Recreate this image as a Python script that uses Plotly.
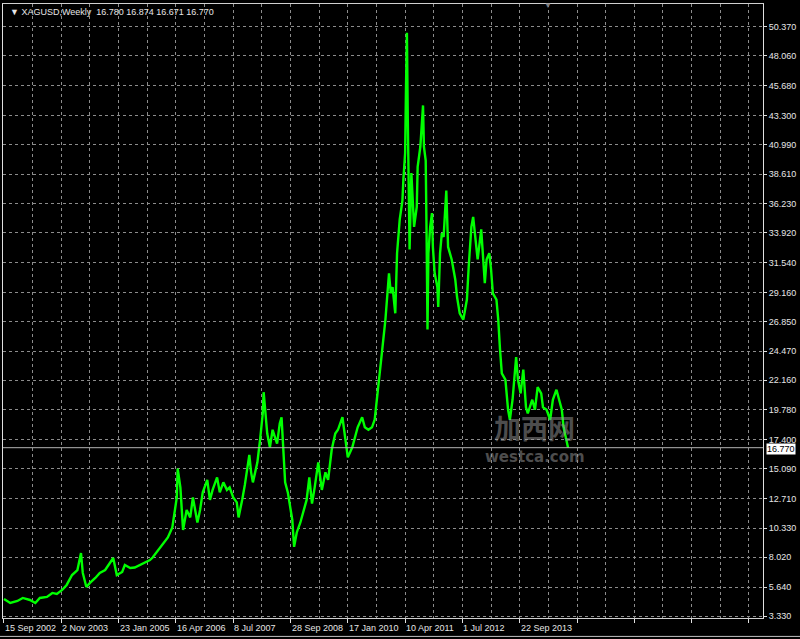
import plotly.graph_objects as go

# weekly bar index (from 15 Sep 2002) and approximate price
bars = [0, 7, 15, 21, 29, 35, 40, 48, 54, 59, 65, 70, 76, 82, 86, 88, 92, 96, 102, 107,
        113, 118, 122, 126, 132, 135, 141, 146, 152, 157, 163, 166, 172, 178, 183, 188, 191, 193, 194, 197,
        200, 204, 208, 211, 216, 219, 222, 227, 230, 233, 238, 241, 245, 249, 252, 256, 260, 262, 266, 269,
        274, 276, 278, 283, 286, 289, 290, 294, 297, 300, 305, 308, 310, 312, 314, 317, 322, 324, 327, 331,
        334, 338, 341, 344, 347, 351, 355, 359, 362, 366, 370, 373, 378, 381, 384, 389, 392, 395, 400, 403,
        407, 411, 414, 418, 422, 426, 428, 430, 432, 434, 437, 439, 442, 445, 446, 448, 449, 450, 451, 452,
        453, 455, 457, 458, 461, 462, 465, 467, 468, 469, 471, 472, 473, 474, 476, 478, 479, 481, 484, 485,
        487, 489, 491, 494, 496, 500, 504, 506, 509, 513, 515, 517, 519, 522, 524, 526, 528, 529, 533, 535,
        537, 539, 542, 544, 546, 550, 552, 554, 556, 560, 563, 565, 567, 568, 572, 574, 577, 580, 583, 585,
        590, 593, 596, 600, 602, 606, 610, 613, 617, 619, 623, 625, 628, 630]
prices = [4.69, 4.37, 4.53, 4.77, 4.61, 4.37, 4.77, 4.85, 5.17, 5.09, 5.41, 5.81, 6.60, 7.00, 8.36, 6.77, 5.64, 5.97, 6.37, 6.77,
          7.00, 7.56, 7.96, 6.60, 6.85, 7.40, 7.16, 7.20, 7.40, 7.56, 7.80, 8.00, 8.60, 9.16, 9.60, 10.4, 11.8, 12.8, 15.1, 13.6,
          10.2, 11.8, 11.2, 12.8, 10.8, 11.8, 13.2, 14.2, 12.6, 13.4, 14.4, 13.2, 14.0, 13.4, 13.6, 12.8, 12.4, 11.2, 12.6, 13.8,
          16.2, 14.8, 14.0, 15.6, 17.4, 19.5, 21.2, 17.9, 16.8, 18.2, 17.1, 18.7, 19.2, 16.8, 14.0, 13.2, 11.0, 8.85, 10.0, 10.8,
          11.6, 12.6, 14.4, 12.3, 13.6, 15.6, 13.4, 14.8, 14.2, 16.6, 17.9, 18.2, 19.2, 17.4, 16.0, 16.8, 17.6, 18.4, 19.2, 18.4,
          18.2, 18.4, 19.0, 21.4, 24.3, 27.0, 29.1, 30.7, 29.1, 29.6, 27.5, 32.3, 35.0, 36.5, 38.1, 40.3, 45.6, 49.9, 43.0, 35.0,
          32.6, 38.7, 36.3, 34.4, 36.0, 39.2, 40.8, 43.0, 44.1, 40.8, 39.7, 33.6, 26.2, 32.3, 34.4, 35.5, 32.8, 30.7, 29.6, 28.0,
          32.3, 33.9, 33.6, 37.3, 32.8, 31.8, 30.2, 28.8, 27.5, 27.0, 28.0, 28.6, 31.2, 34.4, 35.2, 33.9, 32.3, 31.8, 34.2, 32.3,
          29.9, 31.8, 32.3, 31.0, 29.1, 28.6, 27.0, 24.6, 22.7, 22.2, 19.8, 19.0, 20.0, 20.6, 24.0, 22.2, 21.1, 23.0, 20.0, 19.5,
          20.6, 19.8, 21.6, 21.1, 20.0, 19.8, 19.0, 20.6, 21.4, 20.8, 19.8, 18.4, 17.4, 16.77]

y_ticks = [3.33, 5.64, 8.02, 10.33, 12.71, 15.09, 17.40, 19.78, 22.16, 24.47, 26.85, 29.16, 31.54,
           33.92, 36.23, 38.61, 40.99, 43.30, 45.68, 48.06, 50.37]
x_label_bars = [0, 64, 128, 192, 256, 320, 384, 448, 512, 576]
x_labels = ["15 Sep 2002", "2 Nov 2003", "23 Jan 2005", "16 Apr 2006", "8 Jul 2007", "28 Sep 2008",
            "17 Jan 2010", "10 Apr 2011", "1 Jul 2012", "22 Sep 2013"]
last_price = 16.770
header = "XAGUSD,Weekly  16.780 16.874 16.671 16.770"

FONT = "Liberation Sans"
GRID = "#8c8c8c"
TXT = "#e6e6e6"

fig = go.Figure()
fig.add_trace(go.Scatter(x=bars, y=prices, mode="lines",
                         line=dict(color="#00ff00", width=2.4), hoverinfo="skip"))

fig.update_layout(
    width=800, height=639,
    margin=dict(l=3, r=37, t=4, b=21),
    paper_bgcolor="black", plot_bgcolor="black",
    showlegend=False,
    font=dict(family=FONT, size=9, color=TXT),
    xaxis=dict(range=[-1.1, 847.7], tick0=0, dtick=64, showticklabels=False,
               ticks="outside", ticklen=4, tickcolor="#e0e0e0",
               showgrid=True, gridcolor=GRID, griddash="3px,3px", gridwidth=1,
               minor=dict(dtick=32, tick0=0, showgrid=True, gridcolor=GRID, griddash="3px,3px", ticks=""),
               showline=True, linecolor="#d0d0d0", linewidth=1, mirror=True, zeroline=False),
    yaxis=dict(range=[3.17, 52.20], side="right", tickvals=y_ticks,
               ticktext=[f"{v:.3f}" for v in y_ticks],
               ticks="outside", ticklen=3, tickcolor="#e0e0e0",
               tickfont=dict(family=FONT, size=9, color=TXT),
               showgrid=True, gridcolor=GRID, griddash="3px,3px", gridwidth=1,
               showline=True, linecolor="#e0e0e0", linewidth=1, mirror=True, zeroline=False),
)

# current price line
fig.add_hline(y=last_price, line=dict(color="#b4b4b4", width=1))

annotations = []
for b, t in zip(x_label_bars, x_labels):
    annotations.append(dict(x=b, y=0, xref="x", yref="paper", text=t, showarrow=False,
                            xanchor="left", yanchor="top", yshift=-3, xshift=-1,
                            font=dict(family=FONT, size=9, color=TXT)))
annotations.append(dict(x=1, y=last_price, xref="paper", yref="y", text=f"{last_price:.3f}",
                        showarrow=False, xanchor="left", yanchor="middle", xshift=3, yshift=-1,
                        bgcolor="white", borderpad=0,
                        font=dict(family=FONT, size=9, color="black")))
annotations.append(dict(x=0, y=1, xref="paper", yref="paper", text="▼ " + header,
                        showarrow=False, xanchor="left", yanchor="top", xshift=5, yshift=-1,
                        font=dict(family=FONT, size=9, color=TXT)))
annotations.append(dict(x=608, y=1, xref="x", yref="paper", text="▼", showarrow=False,
                        xanchor="center", yanchor="middle", yshift=-1,
                        font=dict(family=FONT, size=8, color="#808080")))
# watermark
annotations.append(dict(x=593, y=18.4, xref="x", yref="y", text="<b>加西网</b>", showarrow=False,
                        xanchor="center", yanchor="middle", opacity=0.5,
                        font=dict(family="Noto Sans CJK SC", size=27, color="#9a9a9a")))
annotations.append(dict(x=593, y=16.0, xref="x", yref="y", text="<b>westca.com</b>", showarrow=False,
                        xanchor="center", yanchor="middle", opacity=0.5,
                        font=dict(family="DejaVu Sans", size=15, color="#9a9a9a")))
fig.update_layout(annotations=annotations)

# window bottom edge
fig.add_shape(type="line", xref="paper", yref="paper", x0=-0.01, x1=1.06, y0=-0.030, y1=-0.030,
              line=dict(color="#c0c0c0", width=1))

fig.write_html("out.html", config={"displayModeBar": False},
               post_script=["document.body.style.margin='0px';"])
